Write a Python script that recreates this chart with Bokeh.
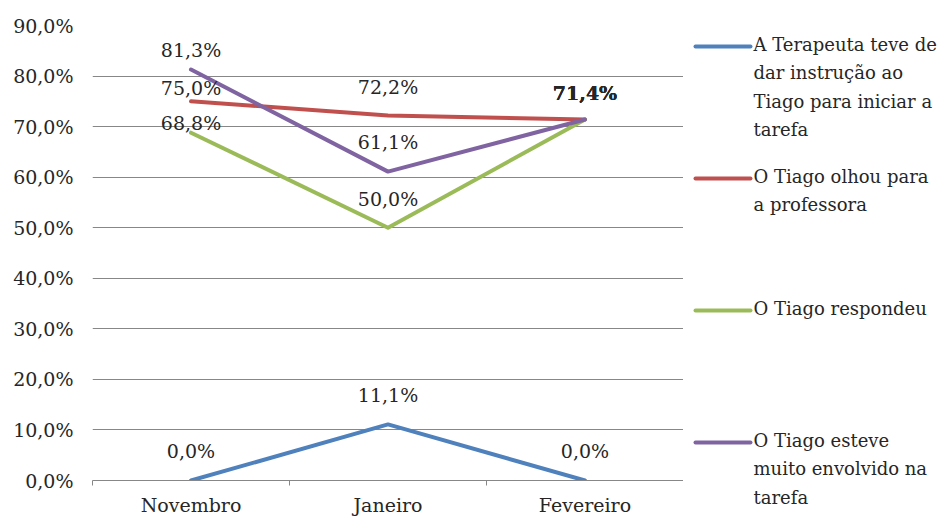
from bokeh.plotting import figure
from bokeh.models import Range1d, FixedTicker, ColumnDataSource
from bokeh.layouts import row
from bokeh.embed import file_html
from bokeh.resources import INLINE
from bokeh.core.properties import value

# ---- data ----
categories = ["Novembro", "Janeiro", "Fevereiro"]
series_names = [
    "A Terapeuta teve de\ndar instrução ao\nTiago para iniciar a\ntarefa",
    "O Tiago olhou para\na professora",
    "O Tiago respondeu",
    "O Tiago esteve\nmuito envolvido na\ntarefa",
]
terapeuta = [0.0, 11.1, 0.0]
olhou = [75.0, 72.2, 71.4]
respondeu = [68.8, 50.0, 71.4]
envolvido = [81.3, 61.1, 71.4]
y_ticks = [0, 10, 20, 30, 40, 50, 60, 70, 80, 90]
y_tick_labels = ["0,0%", "10,0%", "20,0%", "30,0%", "40,0%", "50,0%",
                 "60,0%", "70,0%", "80,0%", "90,0%"]

series = [terapeuta, olhou, respondeu, envolvido]
colors = ["#4F81BD", "#C0504D", "#9BBB59", "#8064A2"]
# label offsets above each point (pixels) and font style
label_offsets = [[30, 29, 30], [13, 28, 27], [10, 29, 27], [19, 30, 27]]
label_styles = [["normal"] * 3, ["normal", "normal", "bold"],
                ["normal", "normal", "bold"], ["normal", "normal", "bold"]]

FONT = "DejaVu Serif"
GRID = "#878787"
TXT = "#262626"
FS = "19px"

xs = [i + 1 for i in range(len(categories))]

p = figure(width=683, height=518, x_range=Range1d(0.5, 3.5), y_range=Range1d(0, 90),
           output_backend="svg", toolbar_location=None,
           min_border_left=92, min_border_right=0, min_border_top=25, min_border_bottom=36)
p.frame_align = False
p.outline_line_color = None
p.xgrid.grid_line_color = None
p.ygrid.grid_line_color = GRID
p.ygrid.grid_line_width = 1

p.yaxis.ticker = FixedTicker(ticks=y_ticks)
p.yaxis.major_label_overrides = {t: l for t, l in zip(y_ticks, y_tick_labels)}
p.yaxis.axis_line_color = None
p.yaxis.major_tick_line_color = None
p.yaxis.minor_tick_line_color = None
p.yaxis.major_tick_out = 0
p.yaxis.major_label_standoff = 19
p.yaxis.major_label_text_font = FONT
p.yaxis.major_label_text_font_size = FS
p.yaxis.major_label_text_color = TXT

p.xaxis.ticker = FixedTicker(ticks=xs, minor_ticks=[x - 0.5 for x in xs] + [xs[-1] + 0.5])
p.xaxis.major_label_overrides = {x: c for x, c in zip(xs, categories)}
p.xaxis.axis_line_color = GRID
p.xaxis.major_tick_line_color = None
p.xaxis.major_tick_out = 6
p.xaxis.minor_tick_line_color = GRID
p.xaxis.minor_tick_in = 0
p.xaxis.minor_tick_out = 5
p.xaxis.major_label_standoff = 7
p.xaxis.major_label_text_font = FONT
p.xaxis.major_label_text_font_size = FS
p.xaxis.major_label_text_color = TXT

for vals, col in zip(series, colors):
    p.line(xs, vals, line_color=col, line_width=4, line_join="round", line_cap="round")

lx, ly, lt, lo, ls = [], [], [], [], []
for vals, offs, sty in zip(series, label_offsets, label_styles):
    for x, v, o, s in zip(xs, vals, offs, sty):
        lx.append(x)
        ly.append(v)
        lt.append(f"{v:.1f}".replace(".", ",") + "%")
        lo.append(-o)
        ls.append(s)
src = ColumnDataSource(dict(x=lx, y=ly, text=lt, yo=lo, st=ls))
p.text(x="x", y="y", text="text", y_offset="yo", source=src, text_font=value(FONT),
       text_font_size=FS, text_font_style="st", text_align="center",
       text_baseline="middle", text_color=TXT)

# ---- legend panel ----
lg = figure(width=263, height=518, x_range=Range1d(0, 263), y_range=Range1d(518, 0),
            output_backend="svg", toolbar_location=None, x_axis_type=None, y_axis_type=None,
            min_border=0)
lg.frame_align = False
lg.outline_line_color = None
lg.grid.visible = False
legend_y = [46, 178, 310, 442]
for name, col, yy in zip(series_names, colors, legend_y):
    lg.segment(x0=[12], y0=[yy], x1=[67], y1=[yy], line_color=col, line_width=4,
               line_cap="round")
    lg.text(x=[70], y=[yy - 13], text=[name], text_font=value(FONT), text_font_size="18px",
            text_baseline="top", text_align="left", text_color=TXT, text_line_height=1.36)

layout = row(p, lg, spacing=0)
open("out.html", "w").write(file_html(layout, INLINE))
